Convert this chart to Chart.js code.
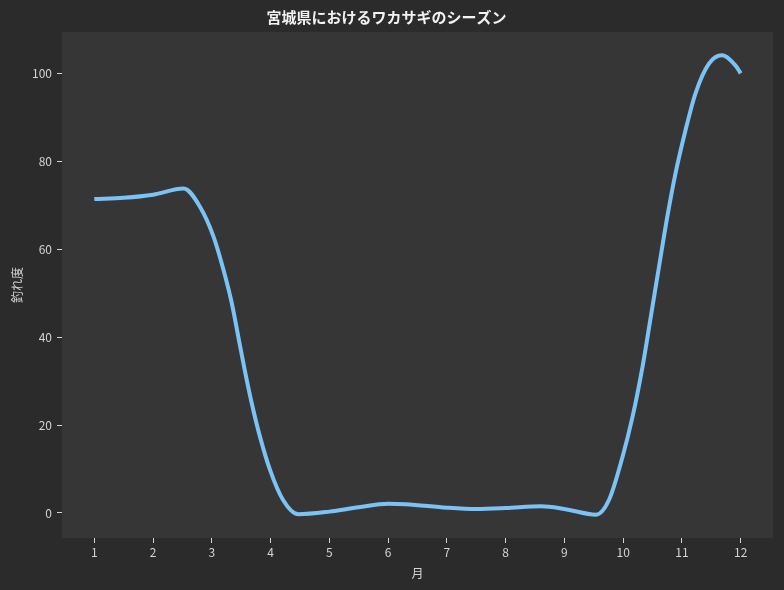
<!DOCTYPE html>
<html>
<head>
<meta charset="utf-8">
<script src="https://cdn.jsdelivr.net/npm/chart.js@4.4.1/dist/chart.umd.min.js"></script>
<style>
html,body{margin:0;padding:0;background:#2b2b2b;}
#wrap{width:784px;height:590px;}
</style>
</head>
<body>
<div id="wrap"><canvas id="c" width="784" height="590"></canvas></div>
<script>
const titleText = '宮城県におけるワカサギのシーズン';
const xTitle = '月';
const yTitle = '釣れ度';
const monthTicks = [1,2,3,4,5,6,7,8,9,10,11,12];
const valueTicks = [0,20,40,60,80,100];
const monthPos = [1, 1.5, 2, 2.52, 2.8, 3.03, 3.2, 3.34, 3.45, 3.56, 3.68, 3.82, 3.99, 4.21, 4.47, 5, 5.5, 6, 6.3, 7, 7.5, 8, 8.6, 9, 9.54, 9.76, 9.99, 10.16, 10.33, 10.47, 10.61, 10.75, 10.89, 11.06, 11.23, 11.46, 11.68, 11.91, 12];
const catchLevel = [71.4, 71.7, 72.4, 73.8, 69.6, 62.8, 55.2, 47.7, 40.1, 32.5, 24.9, 17.3, 9.8, 3.0, -0.3, 0.3, 1.3, 2.1, 2.0, 1.2, 0.9, 1.1, 1.5, 0.9, -0.4, 3.0, 12.8, 21.9, 33.3, 44.6, 56.0, 67.3, 77.2, 87.0, 95.4, 102.2, 104.1, 101.8, 100.0];

const FONT = '"Noto Sans CJK JP", "Noto Sans", sans-serif';
const TXT = '#d4d4d4';

const bgPlugin = {
  id: 'bg',
  beforeDraw(chart) {
    const {ctx, chartArea: a} = chart;
    ctx.save();
    ctx.fillStyle = '#2b2b2b';
    ctx.fillRect(0, 0, chart.width, chart.height);
    ctx.fillStyle = '#363636';
    ctx.fillRect(a.left, a.top, a.right - a.left, a.bottom - a.top);
    ctx.restore();
  }
};

new Chart(document.getElementById('c'), {
  type: 'line',
  data: {
    datasets: [{
      data: monthPos.map((m, i) => ({x: m, y: catchLevel[i]})),
      borderColor: '#7cc3f5',
      borderWidth: 4,
      pointRadius: 0,
      cubicInterpolationMode: 'monotone',
      fill: false
    }]
  },
  options: {
    responsive: false,
    animation: false,
    devicePixelRatio: 1,
    layout: {padding: {left: 0, right: 11, top: 0, bottom: 0}},
    plugins: {
      legend: {display: false},
      tooltip: {enabled: false},
      title: {
        display: true,
        text: titleText,
        color: '#f2f2f2',
        font: {family: FONT, size: 15, weight: 'bold'},
        padding: {top: 8, bottom: 6}
      }
    },
    scales: {
      x: {
        type: 'linear',
        min: 0.45,
        max: 12.55,
        afterBuildTicks: s => { s.ticks = monthTicks.map(v => ({value: v})); },
        afterFit: s => { s.height = 52; },
        grid: {drawOnChartArea: false, drawTicks: true, tickLength: 5, tickColor: TXT, tickWidth: 1},
        border: {display: false},
        ticks: {color: TXT, font: {family: FONT, size: 12}, padding: 2, maxRotation: 0},
        title: {display: true, text: xTitle, color: TXT, font: {family: FONT, size: 12}, padding: {top: 0, bottom: 9}}
      },
      y: {
        type: 'linear',
        min: -5.7,
        max: 109.4,
        afterBuildTicks: s => { s.ticks = valueTicks.map(v => ({value: v})); },
        afterFit: s => { s.width = 62; },
        grid: {drawOnChartArea: false, drawTicks: true, tickLength: 5, tickColor: TXT, tickWidth: 1},
        border: {display: false},
        ticks: {color: TXT, font: {family: FONT, size: 12}, padding: 5},
        title: {display: true, text: yTitle, color: TXT, font: {family: FONT, size: 12}, padding: {top: 10, bottom: 0}}
      }
    }
  },
  plugins: [bgPlugin]
});
</script>
</body>
</html>
